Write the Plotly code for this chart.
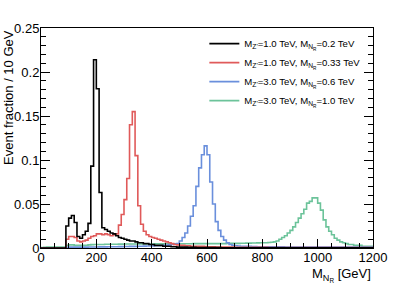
import numpy as np
import plotly.graph_objects as go

bin_edges = list(range(0, 1210, 10))

# event fraction per 10 GeV bin (bins 0-10, 10-20, ..., 1190-1200)
black_vals = [
    0, 0, 0, 0, 0, 0, 0, 0, 0, 0.025,
    0.034, 0.037, 0.029, 0.013, 0.011, 0.015, 0.019, 0.028, 0.093, 0.214,
    0.181, 0.063, 0.023, 0.021, 0.019, 0.017, 0.016, 0.014, 0.012, 0.011,
    0.010, 0.009, 0.008, 0.008, 0.007, 0.006, 0.006, 0.005, 0.005, 0.004,
    0.004, 0.003, 0.003, 0.003, 0.002, 0.002, 0.002, 0.0015, 0.0015, 0.001,
    0.001, 0.001, 0.001, 0.0008, 0.0008, 0.0008, 0.0006, 0.0006, 0.0006, 0.0005,
    0.0005, 0.0005, 0.0004, 0.0004, 0.0004, 0.0003, 0.0003, 0.0003, 0.0003, 0.0003,
    0.0002, 0.0002, 0.0002, 0.0002, 0.0002, 0.0002, 0.0002, 0.0002, 0.0002, 0.0002,
    0.0002, 0.0002, 0.0002, 0.0001, 0.0001, 0.0001, 0.0001, 0.0001, 0.0001, 0.0001,
    0.0001, 0.0001, 0.0001, 0.0001, 0.0001, 0.0001, 0.0001, 0.0001, 0.0001, 0.0001,
    0.0001, 0.0001, 0.0001, 0.0001, 0.0001, 0.0001, 0.0001, 0.0001, 0.0001, 0.0001,
    0.0001, 0.0001, 0.0001, 0.0001, 0.0001, 0.0001, 0.0001, 0.0001, 0.0001, 0.0001,
]
red_vals = [
    0, 0, 0, 0, 0, 0, 0, 0, 0, 0.010,
    0.013, 0.013, 0.012, 0.008, 0.007, 0.008, 0.009, 0.011, 0.013, 0.014,
    0.016, 0.016, 0.015, 0.016, 0.015, 0.014, 0.015, 0.016, 0.026, 0.038,
    0.055, 0.079, 0.140, 0.155, 0.105, 0.048, 0.027, 0.019, 0.015, 0.013,
    0.012, 0.011, 0.010, 0.009, 0.008, 0.007, 0.006, 0.005, 0.004, 0.0035,
    0.003, 0.003, 0.0025, 0.0025, 0.002, 0.002, 0.002, 0.002, 0.0018, 0.0016,
    0.0015, 0.0014, 0.0013, 0.0012, 0.0012, 0.0011, 0.001, 0.001, 0.001, 0.001,
    0.0009, 0.0009, 0.0009, 0.0008, 0.0008, 0.0008, 0.0008, 0.0007, 0.0007, 0.0007,
    0.0007, 0.0007, 0.0006, 0.0006, 0.0006, 0.0006, 0.0006, 0.0006, 0.0006, 0.0006,
    0.0005, 0.0005, 0.0005, 0.0005, 0.0005, 0.0005, 0.0005, 0.0005, 0.0005, 0.0005,
    0.0005, 0.0005, 0.0005, 0.0005, 0.0005, 0.0005, 0.0005, 0.0005, 0.0005, 0.0005,
    0.0005, 0.0005, 0.0005, 0.0005, 0.0005, 0.0005, 0.0005, 0.0005, 0.0005, 0.0005,
]
blue_vals = [
    0.0003, 0.0003, 0.0003, 0.0003, 0.0003, 0.0003, 0.0003, 0.0003, 0.0003, 0.0008,
    0.001, 0.001, 0.001, 0.001, 0.001, 0.001, 0.001, 0.0012, 0.0012, 0.0012,
    0.0012, 0.0013, 0.0013, 0.0013, 0.0014, 0.0014, 0.0015, 0.0015, 0.0016, 0.0016,
    0.0017, 0.0017, 0.0018, 0.0018, 0.0019, 0.002, 0.002, 0.0021, 0.0022, 0.0023,
    0.0024, 0.0025, 0.0026, 0.0028, 0.003, 0.0032, 0.0035, 0.004, 0.0045, 0.005,
    0.008, 0.012, 0.017, 0.025, 0.036, 0.048, 0.070, 0.091, 0.106, 0.116,
    0.106, 0.075, 0.050, 0.030, 0.020, 0.013, 0.009, 0.006, 0.004, 0.003,
    0.0025, 0.0022, 0.002, 0.002, 0.0018, 0.0018, 0.0016, 0.0016, 0.0015, 0.0015,
    0.0015, 0.0015, 0.0014, 0.0014, 0.0014, 0.0013, 0.0013, 0.0013, 0.0012, 0.0012,
    0.0012, 0.0012, 0.0011, 0.0011, 0.0011, 0.0011, 0.001, 0.001, 0.001, 0.001,
    0.001, 0.001, 0.001, 0.001, 0.001, 0.001, 0.001, 0.001, 0.001, 0.001,
    0.001, 0.001, 0.001, 0.001, 0.001, 0.001, 0.001, 0.001, 0.001, 0.001,
]
green_vals = [
    0.0005, 0.0008, 0.001, 0.001, 0.001, 0.001, 0.0012, 0.0012, 0.0012, 0.003,
    0.0035, 0.0035, 0.003, 0.003, 0.003, 0.003, 0.0032, 0.0035, 0.0038, 0.004,
    0.004, 0.004, 0.004, 0.0042, 0.0042, 0.0042, 0.0043, 0.0043, 0.0044, 0.0044,
    0.0045, 0.0045, 0.0045, 0.0045, 0.0045, 0.0045, 0.0046, 0.0046, 0.0046, 0.0046,
    0.0046, 0.0047, 0.0047, 0.0047, 0.0047, 0.0048, 0.0048, 0.0048, 0.0048, 0.0048,
    0.0048, 0.0048, 0.0049, 0.0049, 0.0049, 0.005, 0.005, 0.005, 0.005, 0.005,
    0.005, 0.005, 0.005, 0.005, 0.005, 0.005, 0.005, 0.0052, 0.0052, 0.0052,
    0.0053, 0.0053, 0.0054, 0.0054, 0.0055, 0.0055, 0.0056, 0.0056, 0.0058, 0.006,
    0.006, 0.006, 0.0062, 0.0065, 0.007, 0.008, 0.010, 0.012, 0.014, 0.017,
    0.020, 0.024, 0.029, 0.034, 0.039, 0.044, 0.051, 0.053, 0.057, 0.057,
    0.051, 0.043, 0.032, 0.024, 0.019, 0.015, 0.011, 0.009, 0.007, 0.006,
    0.005, 0.004, 0.004, 0.003, 0.003, 0.003, 0.002, 0.002, 0.002, 0.002,
]

series_names = [
    "M<sub>Z'</sub>=1.0 TeV, M<sub>N<sub>R</sub></sub>=0.2 TeV",
    "M<sub>Z'</sub>=1.0 TeV, M<sub>N<sub>R</sub></sub>=0.33 TeV",
    "M<sub>Z'</sub>=3.0 TeV, M<sub>N<sub>R</sub></sub>=0.6 TeV",
    "M<sub>Z'</sub>=3.0 TeV, M<sub>N<sub>R</sub></sub>=1.0 TeV",
]
series_values = [black_vals, red_vals, blue_vals, green_vals]
series_colors = ["#000000", "#e05a5a", "#6a8fdc", "#6cc39a"]

FONT = "Liberation Sans, Arial, Helvetica, sans-serif"

fig = go.Figure()
# draw in reverse so black is on top, keep legend order
for i in [3, 2, 1, 0]:
    vals = series_values[i]
    fig.add_trace(go.Scatter(
        x=bin_edges,
        y=list(vals) + [vals[-1]],
        mode="lines",
        line=dict(color=series_colors[i], width=1.6, shape="hv"),
        name=series_names[i],
        legendrank=i + 1,
        legendgroup=str(i),
        hoverinfo="skip",
    ))

fig.update_layout(
    width=415, height=283,
    margin=dict(l=41, r=42, t=28, b=35),
    paper_bgcolor="white", plot_bgcolor="white",
    font=dict(family=FONT, size=13, color="black"),
    showlegend=True,
    legend=dict(
        x=0.492, y=0.995, xanchor="left", yanchor="top",
        bgcolor="rgba(0,0,0,0)", borderwidth=0,
        font=dict(size=9.6, family=FONT),
        tracegroupgap=0,
        traceorder="grouped",
    ),
    xaxis=dict(
        range=[0, 1200], showgrid=False, zeroline=False, automargin=False,
        showline=True, linecolor="black", linewidth=1, mirror=True,
        ticks="inside", ticklen=9, tickcolor="black", tickwidth=1,
        tickvals=[0, 200, 400, 600, 800, 1000, 1200],
        ticktext=["0", "200", "400", "600", "800", "1000", "1200"],
        tickfont=dict(size=13), ticklabelstandoff=-3,
        minor=dict(dtick=50, ticks="inside", ticklen=5, tickcolor="black", showgrid=False),
    ),
    yaxis=dict(
        range=[0, 0.25], showgrid=False, zeroline=False, automargin=False,
        showline=True, linecolor="black", linewidth=1, mirror="ticks",
        ticks="inside", ticklen=9, tickcolor="black", tickwidth=1,
        tickvals=[0, 0.05, 0.1, 0.15, 0.2, 0.25],
        ticktext=["0", "0.05", "0.1", "0.15", "0.2", "0.25"],
        tickfont=dict(size=13), ticklabelstandoff=-2,
        minor=dict(dtick=0.01, ticks="inside", ticklen=5, tickcolor="black", showgrid=False),
    ),
    annotations=[
        dict(text="Event fraction / 10 GeV", textangle=-90, xref="paper", yref="paper",
             x=-0.098, y=1.0, xanchor="center", yanchor="top", showarrow=False,
             font=dict(size=13)),
        dict(text="M<sub>N<sub>R</sub></sub> [GeV]", xref="paper", yref="paper",
             x=1.0, y=-0.072, xanchor="right", yanchor="top", showarrow=False,
             font=dict(size=13)),
    ],
)

fig.write_html("out.html", config={"displayModeBar": False},
               post_script="document.body.style.margin='0px';")
